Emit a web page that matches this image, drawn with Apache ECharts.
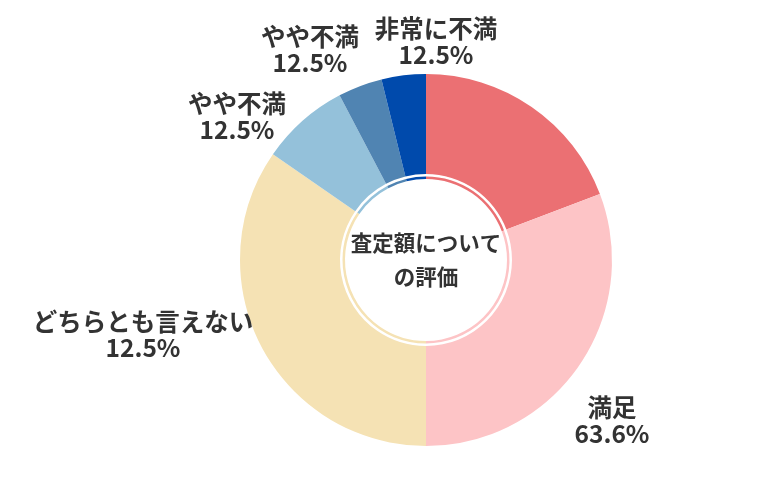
<!DOCTYPE html>
<html>
<head>
<meta charset="utf-8">
<script src="https://cdn.jsdelivr.net/npm/echarts@6/dist/echarts.min.js"></script>
<style>
  html, body { margin: 0; padding: 0; background: #fff; }
  #chart { width: 780px; height: 500px; }
</style>
</head>
<body>
<div id="chart"></div>
<script>
// answers (counts) clockwise from the top
const categories = ['大変満足', '満足', 'どちらとも言えない', 'やや不満', 'やや不満', '非常に不満'];
const values = [5, 8, 9, 2, 1, 1];
// label texts as printed on the chart (the red slice has none)
const labelNames = ['', '満足', 'どちらとも言えない', 'やや不満', 'やや不満', '非常に不満'];
const labelPercents = ['', '63.6%', '12.5%', '12.5%', '12.5%', '12.5%'];
const colors = ['#eb7073', '#fdc4c6', '#f5e2b4', '#94c1da', '#5084b2', '#004aac'];

// where each label sits
const labelPos = [null, [612, 421], [143, 335], [237, 117], [310, 50], [436, 42]];

const cx = 426, cy = 260;
const font = '"Noto Sans CJK JP", "Noto Sans", sans-serif';

const chart = echarts.init(document.getElementById('chart'));

const pieData = categories.map((name, i) => ({
  name: name,
  value: values[i],
  itemStyle: { color: colors[i] }
}));

chart.setOption({
  animation: false,
  series: [
    {
      type: 'pie',
      center: [cx, cy],
      radius: [86, 186],
      startAngle: 90,
      clockwise: true,
      silent: true,
      itemStyle: { borderWidth: 0 },
      data: pieData,
      label: {
        show: true,
        position: 'outside',
        formatter: (p) => labelNames[p.dataIndex] ? labelNames[p.dataIndex] + '\n' + labelPercents[p.dataIndex] : '',
        fontFamily: font,
        fontSize: 24.5,
        fontWeight: 'bold',
        lineHeight: 26,
        color: '#333',
        align: 'center',
        overflow: 'none'
      },
      labelLine: { show: false },
      labelLayout: (params) => {
        const pos = labelPos[params.dataIndex];
        if (!pos) return {};
        return { x: pos[0], y: pos[1], align: 'center', verticalAlign: 'middle' };
      }
    },
    {
      type: 'pie',
      center: [cx, cy],
      radius: [81, 83.5],
      startAngle: 90,
      clockwise: true,
      silent: true,
      itemStyle: { borderWidth: 0 },
      data: pieData,
      label: { show: false },
      labelLine: { show: false }
    }
  ],
  graphic: [
    {
      type: 'text',
      x: cx,
      y: cy,
      style: {
        text: '査定額について\nの評価',
        fontFamily: font,
        fontSize: 21.5,
        fontWeight: 'bold',
        lineHeight: 34,
        fill: '#333',
        align: 'center',
        verticalAlign: 'middle'
      }
    }
  ]
});
</script>
</body>
</html>
